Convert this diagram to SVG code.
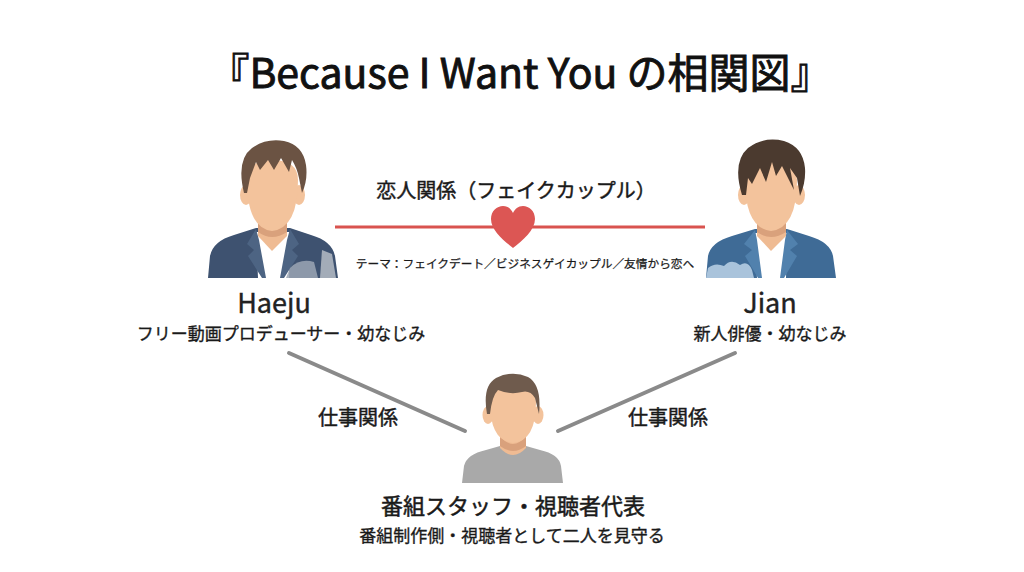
<svg xmlns="http://www.w3.org/2000/svg" width="1024" height="572" viewBox="0 0 1024 572">
<style>
text{font-family:"Noto Sans CJK JP","Noto Sans",sans-serif;fill:#1a1a1a;text-anchor:middle;font-weight:400;stroke:#1a1a1a;stroke-width:0.35px}
.title{font-size:41px;fill:#111;stroke:#111;stroke-width:0.9px}
.name{font-size:27px;fill:#222;stroke:#222;stroke-width:0.4px}
.role{font-size:17px}
.rel{font-size:20px;stroke-width:0.45px}
.staff{font-size:22px;stroke-width:0.5px}
.theme{font-size:11.7px;stroke-width:0.25px}
.sub{font-size:17px}
.skin{fill:#f3c39c}
.neck{fill:#efbb93}
.shadow{fill:#d9a17c}
.work{stroke:#8a8a8a;stroke-width:4;stroke-linecap:round;fill:none}
</style>
<rect width="1024" height="572" fill="#ffffff"/>
<g id="title"><text class="title" x="520" y="88">『Because I Want You の相関図』</text></g>

<g id="connectors">
<line x1="335" y1="227" x2="705" y2="227" stroke="#d9534f" stroke-width="3"/>
<path d="M513,248 C503,240 491,230 491,219 C491,211 497,206 503,206 C508,206 511,209 513,213 C515,209 518,206 523,206 C529,206 535,211 535,219 C535,230 523,240 513,248 Z" fill="#dc5654"/>
<text class="rel" x="516" y="198">恋人関係（フェイクカップル）</text>
<text class="theme" x="525" y="268">テーマ：フェイクデート／ビジネスゲイカップル／友情から恋へ</text>
<line class="work" x1="289" y1="353" x2="465" y2="431"/>
<line class="work" x1="558" y1="431" x2="735" y2="353"/>
<text class="rel" x="358" y="425">仕事関係</text>
<text class="rel" x="668" y="425">仕事関係</text>
</g>

<g id="haeju">
<path d="M208,278 L210,256 Q213,241 234,235 L256,228 L290,228 L311,235 Q332,241 335,256 L338,278 Z" fill="#3e5270"/>
<path d="M256,232 L290,232 L289,278 L258,278 Z" fill="#ffffff"/>
<path d="M256,229 L247,244 L254,250 L248,256 L262,278 L266,278 L259,240 Z" fill="#4d6483"/>
<path d="M290,229 L299,244 L292,250 L298,256 L284,278 L280,278 L287,240 Z" fill="#4d6483"/>
<path d="M322,250 L332,254 L336,278 L320,278 Z" fill="#a3acb8"/>
<path d="M290,268 Q300,258 314,262 L318,278 L286,278 Z" fill="#9ba6b4" opacity="0.85"/>
<path d="M258,212 L287,212 L287,236 L272,251 L258,236 Z" class="neck"/>
<path d="M258,220 Q272,236 287,220 L287,232 Q272,242 258,232 Z" class="shadow"/>
<ellipse cx="246" cy="195" rx="6" ry="10" class="skin"/>
<ellipse cx="299" cy="195" rx="6" ry="10" class="skin"/>
<path d="M247,180 Q247,228 272,231 Q298,228 298,180 Q298,160 272,160 Q247,160 247,180 Z" class="skin"/>
<path d="M244,193 Q236,160 252,148 Q266,138 284,141 Q303,145 306,165 Q308,180 302,193 L299,178 Q297,168 292,160 L289,172 L281,158 L274,170 L268,160 L260,170 L256,162 L250,178 L247,193 Z" fill="#6b5343"/>
<text class="name" x="274" y="313">Haeju</text>
<text class="role" x="281" y="340">フリー動画プロデューサー・幼なじみ</text>
</g>

<g id="jian">
<path d="M706,278 L708,256 Q711,242 732,236 L755,229 L787,229 L809,236 Q830,242 833,256 L836,278 Z" fill="#3f6b96"/>
<path d="M755,233 L787,233 L786,278 L757,278 Z" fill="#ffffff"/>
<path d="M755,230 L744,244 L752,250 L745,256 L758,278 L762,278 L757,240 Z" fill="#5181ad"/>
<path d="M787,230 L798,244 L790,250 L797,256 L784,278 L780,278 L785,240 Z" fill="#5181ad"/>
<path d="M706,278 L708,268 Q715,262 724,266 Q731,258 740,265 Q748,260 752,270 L754,278 Z" fill="#a9c3db"/>
<path d="M757,212 L786,212 L786,236 L771,251 L757,236 Z" class="neck"/>
<path d="M757,220 Q771,236 786,220 L786,232 Q771,242 757,232 Z" class="shadow"/>
<ellipse cx="744" cy="195" rx="6" ry="10" class="skin"/>
<ellipse cx="799" cy="195" rx="6" ry="10" class="skin"/>
<path d="M745,180 Q745,228 771,231 Q797,228 797,180 Q797,160 771,160 Q745,160 745,180 Z" class="skin"/>
<path d="M742,195 Q732,162 748,148 Q764,136 784,141 Q803,147 805,168 Q806,182 800,196 L797,178 L790,168 L794,190 L782,166 L776,176 L772,162 L766,182 L760,168 L752,184 L748,178 L746,195 Z" fill="#4b3a2f"/>
<text class="name" x="770" y="313">Jian</text>
<text class="role" x="770" y="340">新人俳優・幼なじみ</text>
</g>

<g id="staff">
<path d="M462,483 L464,466 Q467,454 486,450 L500,446 L526,446 L540,450 Q559,454 561,466 L563,483 Z" fill="#a9a9a9"/>
<path d="M500,430 L526,430 L526,448 Q513,462 500,448 Z" class="neck"/>
<path d="M500,436 Q513,452 526,436 L526,446 Q513,456 500,446 Z" class="shadow"/>
<ellipse cx="488" cy="415" rx="5.5" ry="9" class="skin"/>
<ellipse cx="538" cy="415" rx="5.5" ry="9" class="skin"/>
<path d="M490,402 Q490,441 513,443 Q536,441 536,402 Q536,386 513,386 Q490,386 490,402 Z" class="skin"/>
<path d="M487,414 Q482,386 496,378 Q512,370 528,377 Q542,385 539,414 L535,398 Q530,390 522,392 Q510,395 498,390 Q492,396 490,414 Z" fill="#6f5b4d"/>
<text class="staff" x="513" y="514">番組スタッフ・視聴者代表</text>
<text class="sub" x="512" y="542">番組制作側・視聴者として二人を見守る</text>
</g>
</svg>
